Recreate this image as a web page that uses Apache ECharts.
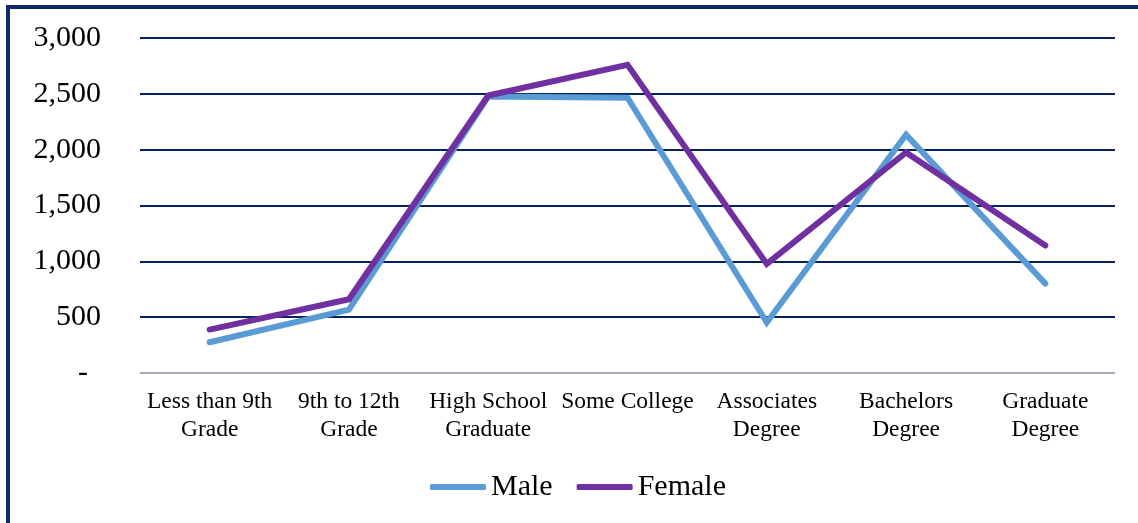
<!DOCTYPE html>
<html>
<head>
<meta charset="utf-8">
<script src="https://cdn.jsdelivr.net/npm/echarts@6/dist/echarts.min.js"></script>
<style>
  html, body { margin: 0; padding: 0; background: #fff; }
  #frame { position: absolute; left: 0; top: 0; width: 1138px; height: 523px; }
  #edge { position: absolute; left: 6px; top: 5px; right: 0; bottom: 0;
          border-left: 4px solid #0a2a6a; border-top: 4px solid #0a2a6a; }
  #chart { position: absolute; left: 0; top: 0; width: 1138px; height: 523px; }
</style>
</head>
<body>
<div id="frame">
  <div id="chart"></div>
  <div id="edge"></div>
</div>
<script>
// Education level categories (two-line labels)
const categories = [
  'Less than 9th\nGrade',
  '9th to 12th\nGrade',
  'High School\nGraduate',
  'Some College',
  'Associates\nDegree',
  'Bachelors\nDegree',
  'Graduate\nDegree'
];
const maleValues = [275, 568, 2475, 2465, 452, 2135, 800];
const femaleValues = [389, 660, 2485, 2760, 977, 1975, 1142];
const yTicks = [0, 500, 1000, 1500, 2000, 2500, 3000];

const serif = '"Liberation Serif", "Times New Roman", serif';
const maleColor = '#5b9bd5';
const femaleColor = '#7030a0';

const chart = echarts.init(document.getElementById('chart'));
chart.setOption({
  animation: false,
  backgroundColor: '#fff',
  grid: { left: 140, right: 23, top: 38, bottom: 150 },
  legend: {
    left: 425,
    top: 467,
    itemWidth: 56,
    itemHeight: 6,
    itemGap: 24,
    icon: 'roundRect',
    textStyle: { fontFamily: serif, fontSize: 30, color: '#000' },
    data: ['Male', 'Female']
  },
  xAxis: {
    type: 'category',
    data: categories,
    boundaryGap: true,
    axisLine: { lineStyle: { color: '#d9d9d9', width: 1.5 } },
    axisTick: { show: false },
    axisLabel: {
      interval: 0,
      margin: 15,
      fontFamily: serif,
      fontSize: 23.5,
      lineHeight: 28,
      color: '#000'
    }
  },
  yAxis: {
    type: 'value',
    min: yTicks[0],
    max: yTicks[yTicks.length - 1],
    interval: 500,
    axisLine: { show: false },
    axisTick: { show: false },
    splitLine: { lineStyle: { color: '#06225e', width: 1.8 } },
    axisLabel: {
      margin: 39,
      fontFamily: serif,
      fontSize: 30,
      color: '#000',
      formatter: v => v === 0 ? '{z|-}' : v.toLocaleString('en-US'),
      rich: { z: { fontFamily: serif, fontSize: 30, padding: [0, 13, 0, 0] } }
    }
  },
  series: [
    {
      name: 'Male',
      type: 'line',
      data: maleValues,
      symbol: 'none',
      lineStyle: { color: maleColor, width: 6, cap: 'round', join: 'miter' },
      itemStyle: { color: maleColor }
    },
    {
      name: 'Female',
      type: 'line',
      data: femaleValues,
      symbol: 'none',
      lineStyle: { color: femaleColor, width: 6, cap: 'round', join: 'miter' },
      itemStyle: { color: femaleColor }
    }
  ]
});
</script>
</body>
</html>
